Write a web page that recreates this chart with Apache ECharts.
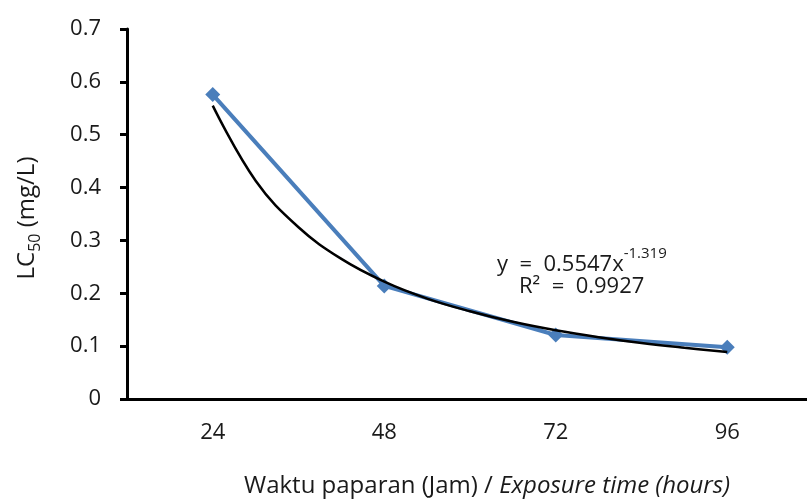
<!DOCTYPE html>
<html>
<head>
<meta charset="utf-8">
<script src="https://cdn.jsdelivr.net/npm/echarts@6/dist/echarts.min.js"></script>
<style>html,body{margin:0;padding:0;background:#fff}#c{width:807px;height:500px}</style>
</head>
<body>
<div id="c"></div>
<script>
// Data
var categories = ['24', '48', '72', '96'];
var lc50Values = [0.576, 0.214, 0.121, 0.098];
// Power trendline: [category position (1..4), LC50]
var trendX = [1.0, 1.25, 1.5, 1.75, 2.0, 2.25, 2.5, 2.75, 3.0, 3.25, 3.5, 3.75, 4.0];
var trendY = [0.555, 0.413, 0.325, 0.265, 0.222, 0.190, 0.166, 0.146, 0.130, 0.117, 0.106, 0.097, 0.089];
var yTicks = [0, 0.1, 0.2, 0.3, 0.4, 0.5, 0.6, 0.7];
var eqLine1 = 'y  =  0.5547x';
var eqExp = '-1.319';
var eqLine2 = 'R²  =  0.9927';

var FONT = 'Open Sans';
var trendData = trendX.map(function (x, i) { return [x, trendY[i]]; });

var chart = echarts.init(document.getElementById('c'), null, { renderer: 'canvas' });
chart.setOption({
  backgroundColor: '#ffffff',
  animation: false,
  textStyle: { fontFamily: FONT, color: '#1a1a1a' },
  grid: { left: 127, right: -6, top: 29, bottom: 101, containLabel: false, outerBoundsMode: 'none' },
  xAxis: [{
    type: 'category',
    data: categories,
    boundaryGap: true,
    axisLine: { lineStyle: { color: '#000', width: 3 } },
    axisTick: { show: false },
    axisLabel: { color: '#1a1a1a', fontSize: 22, fontFamily: FONT, margin: 23 },
    splitLine: { show: false },
    name: '{n|Waktu paparan (Jam) / }{i|Exposure time (hours)}',
    nameLocation: 'middle',
    nameGap: 75,
    nameTextStyle: {
      padding: [0, 0, 0, 34],
      rich: {
        n: { fontSize: 24, fontFamily: FONT, color: '#1a1a1a' },
        i: { fontSize: 24, fontFamily: FONT, fontStyle: 'italic', color: '#1a1a1a' }
      }
    }
  }, {
    type: 'value',
    min: 0.5,
    max: 4.5,
    show: false,
    splitLine: { show: false }
  }],
  yAxis: {
    type: 'value',
    min: 0,
    max: 0.7,
    interval: 0.1,
    axisLine: { show: true, lineStyle: { color: '#000', width: 3 } },
    axisTick: { show: true, length: 7, lineStyle: { color: '#000', width: 3 } },
    axisLabel: {
      color: '#1a1a1a', fontSize: 22, fontFamily: FONT, margin: 26,
      formatter: function (v) {
        for (var i = 0; i < yTicks.length; i++) {
          if (Math.abs(yTicks[i] - v) < 1e-9) return String(yTicks[i]);
        }
        return '';
      }
    },
    splitLine: { show: false },
    name: '{a|LC}{s|50}{a| (mg/L)}',
    nameLocation: 'middle',
    nameGap: 88,
    nameRotate: 90,
    nameTextStyle: {
      padding: [0, 8, 0, 0],
      rich: {
        a: { fontSize: 24, fontFamily: FONT, color: '#1a1a1a', verticalAlign: 'bottom', lineHeight: 30 },
        s: { fontSize: 16, fontFamily: FONT, color: '#1a1a1a', verticalAlign: 'bottom', lineHeight: 20, padding: [0, 0, -4, 0] }
      }
    }
  },
  series: [{
    name: 'LC50',
    type: 'line',
    xAxisIndex: 0,
    data: lc50Values,
    symbol: 'diamond',
    symbolSize: 15,
    lineStyle: { color: '#4a7ebb', width: 4 },
    itemStyle: { color: '#4a7ebb' },
    z: 2
  }, {
    name: 'Trend',
    type: 'line',
    xAxisIndex: 1,
    data: trendData,
    smooth: 0.4,
    symbol: 'none',
    lineStyle: { color: '#000', width: 2.5 },
    z: 3
  }],
  graphic: [{
    type: 'text',
    left: 497,
    top: 246,
    style: {
      text: '{t|' + eqLine1 + '}{e|' + eqExp + '}',
      rich: {
        t: { fontSize: 22, fontFamily: FONT, fill: '#1a1a1a', verticalAlign: 'bottom', lineHeight: 30 },
        e: { fontSize: 15, fontFamily: FONT, fill: '#1a1a1a', verticalAlign: 'top', lineHeight: 30, padding: [0, 0, 10, 0] }
      }
    }
  }, {
    type: 'text',
    left: 519,
    top: 276,
    style: { text: eqLine2, fontSize: 22, fontFamily: FONT, fill: '#1a1a1a' }
  }]
});
</script>
</body>
</html>
